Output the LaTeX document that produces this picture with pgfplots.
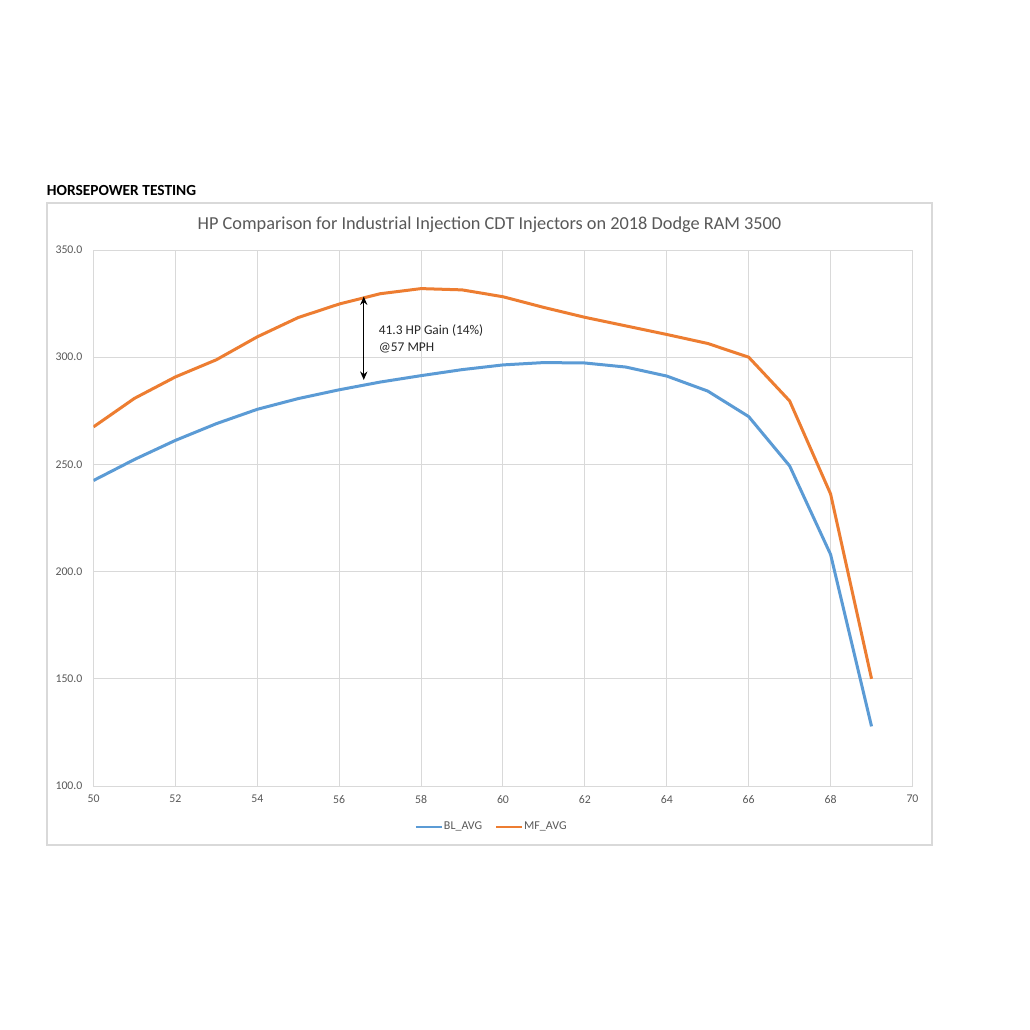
\documentclass[border=0pt]{standalone}
\usepackage{fontspec}
\setmainfont{Carlito}
\usepackage{pgfplots}
\pgfplotsset{compat=1.18}
\usetikzlibrary{arrows.meta}
\definecolor{exblue}{HTML}{5B9BD5}
\definecolor{exorange}{HTML}{ED7D31}
\definecolor{exgrid}{HTML}{D9D9D9}
\definecolor{extext}{HTML}{595959}
\pgfplotstableread{
x bl mf
50 242.5 267.5
51 252.3 280.8
52 261.2 290.8
53 269.0 298.8
54 275.7 309.5
55 280.7 318.5
56 284.8 324.8
57 288.4 329.6
58 291.4 332.0
59 294.2 331.4
60 296.4 328.2
61 297.5 323.2
62 297.3 318.6
63 295.4 314.6
64 291.2 310.6
65 284.2 306.4
66 272.3 300.0
67 249.3 279.6
68 208.0 236.2
69 127.8 150.0
}\hpdata
\begin{document}
\begin{tikzpicture}[x=0.5pt,y=0.5pt]
\useasboundingbox (0,0) rectangle (1030,1030);
\fill[white] (0,0) rectangle (1030,1030);
\draw[exgrid, line width=0.6pt] (47,185) rectangle (932,827);
\node[anchor=west, inner sep=0pt, font=\bfseries\fontsize{7.7}{9}\selectfont] at (46.5,839) {HORSEPOWER TESTING};
\node[inner sep=0pt, font=\fontsize{9.15}{11}\selectfont, text=extext] at (489.5,805) {HP Comparison for Industrial Injection CDT Injectors on 2018 Dodge RAM 3500};
\begin{axis}[
  at={(46.75pt,122pt)}, anchor=south west, scale only axis,
  width=409.5pt, height=268pt,
  xmin=50, xmax=70, ymin=100, ymax=350,
  xtick={50,52,...,70}, ytick={100,150,...,350},
  grid=major, grid style={exgrid, line width=0.5pt},
  axis line style={exgrid, line width=0.5pt},
  major tick length=0pt,
  /pgf/number format/assume math mode=true,
  ticklabel style={font=\fontsize{5.9}{7}\selectfont, text=extext},
  yticklabel={\pgfmathprintnumber[fixed,fixed zerofill,precision=1]{\tick}},
  yticklabel style={xshift=-2pt},
  xticklabel style={yshift=-1pt},
  legend style={at={(0.4857,-0.0759)}, anchor=center, draw=none, fill=none,
     legend columns=2, font=\fontsize{6}{7}\selectfont, text=extext,
     /tikz/every even column/.append style={column sep=6pt},
     inner sep=0pt, nodes={inner sep=0.5pt}},
  legend image code/.code={\draw[#1, line width=1pt] (0pt,0pt) -- (13pt,0pt);},
]
\addplot[exblue, line width=1.5pt, line join=round] table[x=x, y=bl] {\hpdata};
\addlegendentry{BL\_AVG}
\addplot[exorange, line width=1.5pt, line join=round] table[x=x, y=mf] {\hpdata};
\addlegendentry{MF\_AVG}
\draw[black, line width=0.7pt, {Stealth[length=4.2pt,width=3.6pt]}-{Stealth[length=4.2pt,width=3.6pt]}] (axis cs:56.6,328.3) -- (axis cs:56.6,289.4);
\node[anchor=north west, align=left, inner sep=0pt, font=\fontsize{6.7}{8.8}\selectfont, text=black!85] at (axis cs:56.96,315.5) {41.3 HP Gain (14\%)\\@57 MPH};
\end{axis}
\end{tikzpicture}
\end{document}
